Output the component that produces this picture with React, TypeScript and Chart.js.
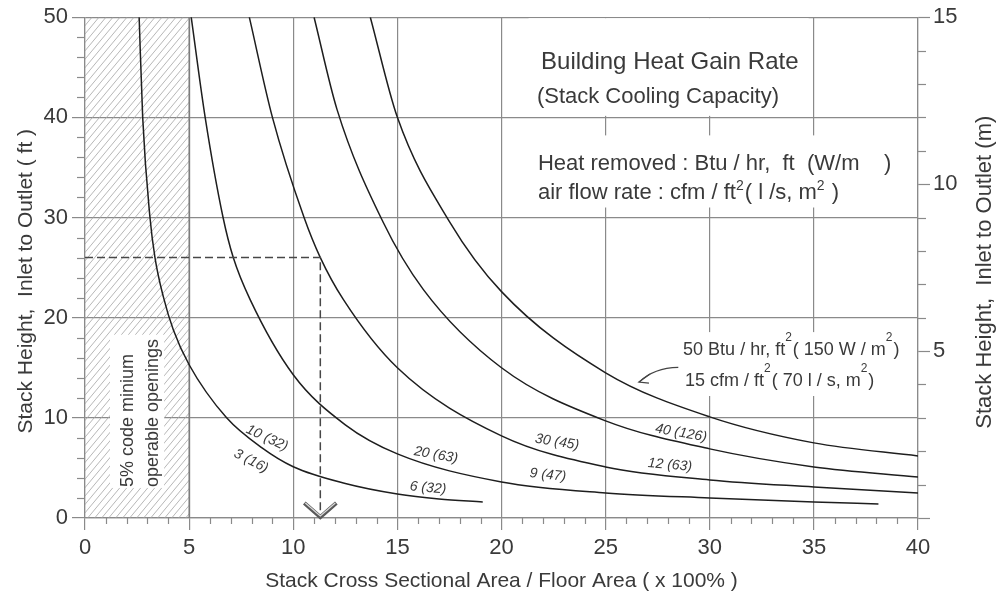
import React, { useEffect, useRef } from "react";
import { Chart, registerables } from "chart.js";

Chart.register(...registerables);

// ---------- data ----------
// Stack cross sectional area / floor area (x100%) and stack height (ft) for each heat-gain curve
const curve10X = [2.6, 2.77, 3.12, 3.36, 3.76, 4.24, 5, 6.8, 8.5, 10, 12.5, 15, 17, 19.1];
const curve10Y = [50, 40, 30, 26, 22.1, 18.8, 15.3, 10, 7.0, 5.12, 3.45, 2.4, 1.9, 1.6];
const curve20X = [5.1, 5.77, 6.63, 7.12, 7.93, 10, 12.5, 15, 20, 25, 30, 35, 38.1];
const curve20Y = [50, 40, 30, 26, 21.8, 14.3, 9.3, 6.4, 3.6, 2.5, 2.0, 1.6, 1.4];
const curve30X = [7.89, 9.0, 10.52, 11.3, 12.41, 15, 20, 25, 30, 35, 40];
const curve30Y = [50, 40, 30, 26, 21.8, 15.0, 8.2, 5.1, 3.8, 3.1, 2.5];
const curve40X = [11.0, 12.1, 14.3, 16.25, 20, 25, 30, 35, 40];
const curve40Y = [50, 40.8, 29.6, 22.8, 15.0, 9.7, 6.9, 5.1, 4.1];
const curve50X = [13.7, 15, 17.5, 20, 25, 30, 35, 40];
const curve50Y = [50, 40, 29.6, 22.6, 14.5, 10.1, 7.5, 6.2];

// curve labels: heat removed Btu/hr ft2 (W/m2) above, air flow cfm/ft2 (l/s m2) below
const heatLabels = ["10 (32)", "20 (63)", "30 (45)", "40 (126)"];
const flowLabels = ["3 (16)", "6 (32)", "9 (47)", "12 (63)"];

// axis ranges / tick labels
const xMin = 0, xMax = 40, xMajor = 5;
const yMin = 0, yMax = 50, yMajor = 10;
const mMin = 0, mMax = 15, mMajor = 5;

// worked example (dashed)
const exampleHeightFt = 26;
const exampleAreaPct = 11.3;
// code minimum zone
const codeMinFrom = 0, codeMinTo = 5;

const xTitle = "Stack Cross Sectional Area / Floor Area ( x 100% )";
const yTitle = "Stack Height,  Inlet to Outlet ( ft )";
const yRightTitle = "Stack Height,  Inlet to Outlet (m)";

// ---------- styling ----------
const FONT = "'Liberation Sans', Arial, Helvetica, sans-serif";
const TEXT = "#3a3a3a";
const GRID = "#8a8a8a";
const CURVE = "#1e1e1e";

const curves = [
  [curve10X, curve10Y],
  [curve20X, curve20Y],
  [curve30X, curve30Y],
  [curve40X, curve40Y],
  [curve50X, curve50Y],
];

// label placement (data coords) and rotation in degrees
const heatLabelPos = [
  [8.74, 7.98, 25],
  [16.85, 6.29, 10],
  [22.67, 7.58, 9],
  [28.62, 8.48, 10],
];
const flowLabelPos = [
  [7.97, 5.69, 27],
  [16.47, 2.99, 5],
  [22.23, 4.29, 6],
  [28.09, 5.29, 5],
];

// white backgrounds behind text blocks [x0, x1, y0, y1] in data units
const whiteBoxes = [
  [21.3, 34.75, 40.15, 49.9],
  [21.3, 37.7, 31.0, 38.2],
  [28.38, 39.6, 12.18, 18.56],
  [1.2, 3.8, 3.0, 18.3],
];

function drawRich(ctx, segs, x, y, size, supSize, rise) {
  let cx = x;
  for (const [t, sup] of segs) {
    ctx.font = `${sup ? supSize : size}px ${FONT}`;
    ctx.fillText(t, cx, sup ? y - rise : y);
    cx += ctx.measureText(t).width + (sup ? 1 : 0);
  }
}

const stackPlugin = {
  id: "stackAnnotations",
  beforeDatasetsDraw(chart) {
    const { ctx, chartArea, scales } = chart;
    const X = (v) => scales.x.getPixelForValue(v);
    const Y = (v) => scales.y.getPixelForValue(v);
    // hatched code-minimum zone
    ctx.save();
    const hx0 = X(codeMinFrom), hx1 = X(codeMinTo);
    const hy0 = chartArea.top, hy1 = chartArea.bottom;
    ctx.beginPath();
    ctx.rect(hx0, hy0, hx1 - hx0, hy1 - hy0);
    ctx.clip();
    ctx.strokeStyle = "#a5a5a5";
    ctx.lineWidth = 0.8;
    const h = hy1 - hy0;
    const dx = h / 1.2;
    for (let sx = hx0 - dx; sx < hx1 + 2; sx += 7) {
      ctx.beginPath();
      ctx.moveTo(sx, hy1);
      ctx.lineTo(sx + dx, hy0);
      ctx.stroke();
    }
    ctx.restore();
    ctx.save();
    ctx.strokeStyle = "#7a7a7a";
    ctx.lineWidth = 1.3;
    ctx.beginPath();
    ctx.moveTo(hx1, hy0);
    ctx.lineTo(hx1, hy1);
    ctx.stroke();
    ctx.restore();
    // white boxes behind texts
    ctx.save();
    ctx.fillStyle = "#ffffff";
    for (const [x0, x1, y0, y1] of whiteBoxes) {
      ctx.fillRect(X(x0), Y(y1), X(x1) - X(x0), Y(y0) - Y(y1));
    }
    ctx.restore();
  },
  afterDatasetsDraw(chart) {
    const { ctx, scales } = chart;
    const X = (v) => scales.x.getPixelForValue(v);
    const Y = (v) => scales.y.getPixelForValue(v);

    // dashed example
    ctx.save();
    ctx.strokeStyle = "#474747";
    ctx.lineWidth = 1.5;
    ctx.setLineDash([8, 4]);
    ctx.beginPath();
    ctx.moveTo(X(0), Y(exampleHeightFt));
    ctx.lineTo(X(exampleAreaPct), Y(exampleHeightFt));
    ctx.lineTo(X(exampleAreaPct), Y(0) - 6);
    ctx.stroke();
    ctx.setLineDash([]);
    // chevron arrow at the bottom
    const tx = X(exampleAreaPct), ty = Y(0) - 1;
    ctx.lineJoin = "miter";
    ctx.strokeStyle = "#595959";
    ctx.lineWidth = 4;
    ctx.beginPath();
    ctx.moveTo(tx - 16, ty - 14);
    ctx.lineTo(tx, ty);
    ctx.lineTo(tx + 16, ty - 14);
    ctx.stroke();
    ctx.strokeStyle = "#d9d9d9";
    ctx.lineWidth = 1.3;
    ctx.beginPath();
    ctx.moveTo(tx - 15, ty - 14);
    ctx.lineTo(tx, ty - 1);
    ctx.lineTo(tx + 15, ty - 14);
    ctx.stroke();
    ctx.restore();

    // curved pointer to the 50 Btu curve
    ctx.save();
    ctx.strokeStyle = "#444";
    ctx.lineWidth = 1.2;
    const sx = X(28.49), sy = Y(15.04);
    const cx = X(27.33), cy = Y(15.0);
    const px = X(26.6), py = Y(13.57);
    ctx.beginPath();
    ctx.moveTo(sx, sy);
    ctx.quadraticCurveTo(cx, cy, px, py);
    ctx.stroke();
    ctx.beginPath();
    ctx.moveTo(px + 11, py - 8);
    ctx.lineTo(px, py);
    ctx.lineTo(px + 10, py + 1);
    ctx.stroke();
    ctx.restore();

    // texts
    ctx.save();
    ctx.fillStyle = TEXT;
    ctx.textBaseline = "alphabetic";
    ctx.textAlign = "left";
    ctx.font = `24px ${FONT}`;
    ctx.fillText("Building Heat Gain Rate", X(21.9), Y(44.8));
    ctx.font = `22px ${FONT}`;
    ctx.fillText("(Stack Cooling Capacity)", X(21.7), Y(41.4));
    ctx.fillText("Heat removed : Btu / hr,  ft  (W/m    )", X(21.75), Y(34.7));
    drawRich(
      ctx,
      [["air flow rate : cfm / ft", false], ["2", true], ["( l /s, m", false], ["2", true], [" )", false]],
      X(21.75), Y(31.8), 22, 14, 9
    );
    drawRich(
      ctx,
      [["50 Btu / hr, ft", false], ["2", true], ["( 150 W / m", false], ["2", true], [")", false]],
      X(28.72), Y(16.27), 18, 12, 14
    );
    drawRich(
      ctx,
      [["15 cfm / ft", false], ["2", true], ["( 70 l / s, m", false], ["2", true], [")", false]],
      X(28.81), Y(13.17), 18, 12, 14
    );

    // rotated code-minimum note
    ctx.save();
    ctx.font = `18px ${FONT}`;
    ctx.translate(X(2.3), Y(3.09));
    ctx.rotate(-Math.PI / 2);
    ctx.fillText("5% code minium", 0, 0);
    ctx.restore();
    ctx.save();
    ctx.font = `18px ${FONT}`;
    ctx.translate(X(3.51), Y(3.09));
    ctx.rotate(-Math.PI / 2);
    ctx.fillText("operable openings", 0, 0);
    ctx.restore();

    // curve labels
    ctx.font = `italic 14px ${FONT}`;
    ctx.textAlign = "center";
    ctx.textBaseline = "middle";
    const put = (t, p) => {
      ctx.save();
      ctx.translate(X(p[0]), Y(p[1]));
      ctx.rotate((p[2] * Math.PI) / 180);
      ctx.fillText(t, 0, 0);
      ctx.restore();
    };
    heatLabels.forEach((t, i) => put(t, heatLabelPos[i]));
    flowLabels.forEach((t, i) => put(t, flowLabelPos[i]));
    ctx.restore();
  },
  afterDraw(chart) {
    const { ctx, chartArea, scales } = chart;
    ctx.save();
    ctx.strokeStyle = GRID;
    ctx.lineWidth = 1.2;
    // minor tick marks
    for (const t of scales.x.ticks) {
      if (t.value % xMajor === 0) continue;
      const x = Math.round(scales.x.getPixelForValue(t.value)) + 0.5;
      ctx.beginPath();
      ctx.moveTo(x, chartArea.bottom);
      ctx.lineTo(x, chartArea.bottom + 6);
      ctx.stroke();
    }
    for (const t of scales.y.ticks) {
      if (t.value % yMajor === 0) continue;
      const y = Math.round(scales.y.getPixelForValue(t.value)) + 0.5;
      ctx.beginPath();
      ctx.moveTo(chartArea.left - 8, y);
      ctx.lineTo(chartArea.left, y);
      ctx.stroke();
    }
    for (const t of scales.yRight.ticks) {
      if (t.value % mMajor === 0) continue;
      const y = Math.round(scales.yRight.getPixelForValue(t.value)) + 0.5;
      ctx.beginPath();
      ctx.moveTo(chartArea.right, y);
      ctx.lineTo(chartArea.right + 8, y);
      ctx.stroke();
    }
    // axis titles (both read bottom to top)
    ctx.fillStyle = TEXT;
    ctx.textAlign = "center";
    ctx.textBaseline = "middle";
    ctx.save();
    ctx.font = `21px ${FONT}`;
    ctx.translate(26, chartArea.top + 264);
    ctx.rotate(-Math.PI / 2);
    ctx.fillText(yTitle, 0, 0);
    ctx.restore();
    ctx.save();
    ctx.font = `22px ${FONT}`;
    ctx.translate(chart.width - 23, chartArea.top + 255);
    ctx.rotate(-Math.PI / 2);
    ctx.fillText(yRightTitle, 0, 0);
    ctx.restore();
    ctx.restore();
  },
};

export default function App() {
  const ref = useRef<HTMLCanvasElement>(null);
  useEffect(() => {
    const canvas = ref.current;
    if (!canvas) return;
    const datasets = curves.map(([xs, ys], i) => ({
      label: `curve${i}`,
      data: xs.map((x, j) => ({ x, y: ys[j] })),
      borderColor: CURVE,
      borderWidth: 1.5,
      pointRadius: 0,
      fill: false,
      cubicInterpolationMode: "monotone",
      xAxisID: "x",
      yAxisID: "y",
    }));
    const font = { family: FONT, size: 22 };
    const titleFont = { family: FONT, size: 21 };
    const chart = new Chart(canvas, {
      type: "line",
      data: { datasets },
      options: {
        responsive: false,
        animation: false,
        devicePixelRatio: 1,
        layout: { padding: { top: 17, left: 0, right: 0, bottom: 0 } },
        plugins: { legend: { display: false }, tooltip: { enabled: false } },
        scales: {
          x: {
            type: "linear",
            position: "bottom",
            min: xMin,
            max: xMax,
            ticks: {
              stepSize: 1,
              autoSkip: false,
              maxRotation: 0,
              minRotation: 0,
              padding: 5,
              color: TEXT,
              font,
              callback: (v) => (v % xMajor === 0 ? String(v) : ""),
            },
            grid: {
              color: (c) => (c.tick && c.tick.value % xMajor === 0 ? GRID : "rgba(0,0,0,0)"),
              tickColor: (c) => (c.tick && c.tick.value % xMajor === 0 ? GRID : "rgba(0,0,0,0)"),
              lineWidth: 1.2,
              tickWidth: 1.2,
              tickLength: 12,
            },
            border: { display: true, color: GRID, width: 1.2 },
            title: { display: true, text: xTitle, color: TEXT, font: titleFont, padding: { top: 0, bottom: 9 } },
            afterFit: (s) => {
              s.height = 85;
            },
          },
          y: {
            type: "linear",
            position: "left",
            min: yMin,
            max: yMax,
            ticks: {
              stepSize: 2,
              autoSkip: false,
              padding: 4,
              color: TEXT,
              font,
              callback: (v) => (v % yMajor === 0 ? String(v) : ""),
            },
            grid: {
              color: (c) => (c.tick && c.tick.value % yMajor === 0 ? GRID : "rgba(0,0,0,0)"),
              tickColor: (c) => (c.tick && c.tick.value % yMajor === 0 ? GRID : "rgba(0,0,0,0)"),
              lineWidth: 1.2,
              tickWidth: 1.2,
              tickLength: 13,
            },
            border: { display: true, color: GRID, width: 1.2 },
            title: { display: false },
            afterFit: (s) => {
              s.width = 85;
            },
          },
          yRight: {
            type: "linear",
            position: "right",
            min: mMin,
            max: mMax,
            ticks: {
              stepSize: 1,
              autoSkip: false,
              padding: 3,
              color: TEXT,
              font,
              callback: (v) => (v % mMajor === 0 && v > 0 ? String(v) : ""),
            },
            grid: {
              drawOnChartArea: false,
              tickColor: (c) => (c.tick && c.tick.value % mMajor === 0 ? GRID : "rgba(0,0,0,0)"),
              tickWidth: 1.2,
              tickLength: 12,
            },
            border: { display: true, color: GRID, width: 1.2 },
            title: { display: false },
            afterFit: (s) => {
              s.width = 90;
            },
          },
        },
      },
      plugins: [stackPlugin],
    });
    return () => chart.destroy();
  }, []);
  return (
    <div style={{ position: "fixed", left: 0, top: 0, width: 1008, height: 603, background: "#fff" }}>
      <canvas ref={ref} width={1008} height={603} style={{ display: "block" }} />
    </div>
  );
}
